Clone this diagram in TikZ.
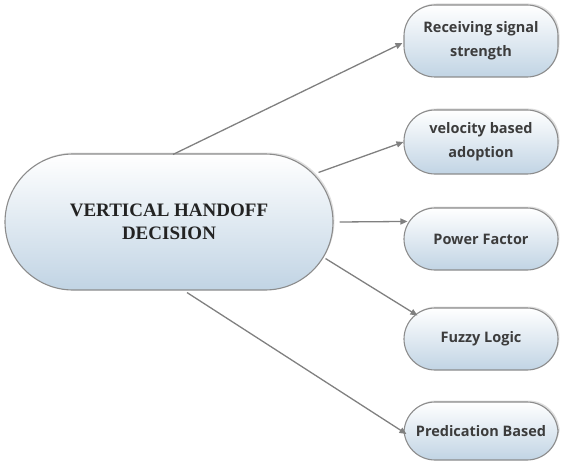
\documentclass[tikz,border=0pt]{standalone}
\usepackage{fontspec}
\setmainfont{Liberation Serif}
\newfontfamily\leaffont{Open Sans}
\usetikzlibrary{calc,shadows,arrows.meta}
\definecolor{pillbot}{RGB}{193,212,228}
\definecolor{pillline}{RGB}{140,140,140}
\definecolor{arrowgrey}{RGB}{128,128,128}
\definecolor{txtdark}{RGB}{35,35,35}
\definecolor{txtleaf}{RGB}{60,60,60}
\tikzset{
  pill/.style={draw=pillline, line width=1.1pt, top color=white, bottom color=pillbot,
    drop shadow={shadow xshift=1.5pt, shadow yshift=1.5pt, fill=black!25, opacity=0.5},
    align=center, inner sep=0pt},
  centrepill/.style={pill, minimum width=328pt, minimum height=136pt, rounded corners=68pt,
    font=\fontsize{19}{23}\selectfont\bfseries, text=txtdark},
  leafpill/.style={pill, minimum width=154pt, rounded corners=31pt,
    font=\leaffont\fontsize{14.5}{24}\selectfont\bfseries, text=txtleaf},
  link/.style={draw=arrowgrey, line width=1.3pt, -{Triangle[length=7pt,width=6pt]}}
}
\begin{document}
\begin{tikzpicture}[x=1pt,y=-1pt]
\useasboundingbox (0,0) rectangle (564,468);
\node[centrepill] (c) at (169,222) {VERTICAL HANDOFF\\DECISION};
\node[leafpill, minimum height=72pt] (n1) at (481,41) {Receiving signal\\strength};
\node[leafpill, minimum height=64pt] (n2) at (481,142) {velocity based\\adoption};
\node[leafpill, minimum height=62pt] (n3) at (481,239) {Power Factor};
\node[leafpill, minimum height=62pt] (n4) at (481,339) {Fuzzy Logic};
\node[leafpill, minimum height=58pt] (n5) at (481,431) {Predication Based};
\draw[link] ($(c.north)+(4,1)$) -- ($(n1.west)+(-1,2)$);
\draw[link] ($(c.north east)+(-15,19)$) -- ($(n2.west)+(0,0)$);
\draw[link] ($(c.east)+(6,0)$) -- ($(n3.north west)+(4,14)$);
\draw[link] ($(c.south east)+(-8,-32)$) -- ($(n4.north west)+(14,8)$);
\draw[link] ($(c.south)+(18,2)$) -- ($(n5.west)+(3,3)$);
\end{tikzpicture}
\end{document}
